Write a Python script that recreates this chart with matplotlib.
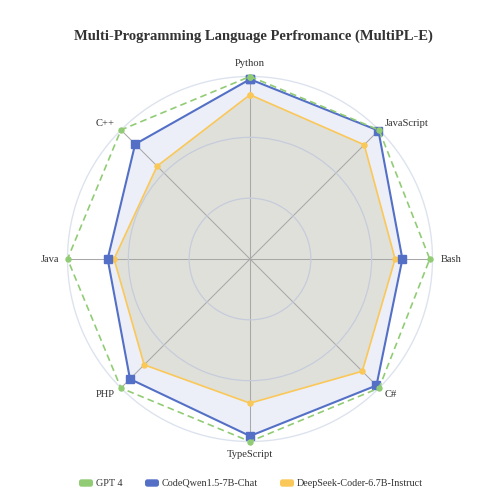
import numpy as np
import matplotlib
matplotlib.use("Agg")
import matplotlib.pyplot as plt
import matplotlib.patches as mpatches

# axes in clockwise order from the top
languages = ["Python", "JavaScript", "Bash", "C#", "TypeScript", "PHP", "Java", "C++"]
# scores as a share of each axis maximum
gpt4 = [100, 100, 98.5, 100, 100, 100, 100, 100]
codeqwen = [98.5, 99.5, 83.5, 98, 97, 93, 78, 89]
deepseek = [90, 88.5, 79.5, 87, 79, 82, 74.5, 72]
series_names = ["GPT 4", "CodeQwen1.5-7B-Chat", "DeepSeek-Coder-6.7B-Instruct"]

GREEN = "#91cc75"
BLUE = "#5470c6"
YELLOW = "#fac858"
TEXT = "#333333"
FONT = "Liberation Serif"

W, H = 492, 498
fig = plt.figure(figsize=(W / 100, H / 100), dpi=100)
fig.patch.set_facecolor("white")

cx, cy, R = 250, 259, 182.5
ax = fig.add_axes([(cx - R) / W, (H - cy - R) / H, 2 * R / W, 2 * R / H],
                  projection="polar")
ax.set_theta_offset(np.pi / 2)
ax.set_theta_direction(-1)
ax.set_ylim(0, 100)
ax.set_facecolor("none")

angles = np.linspace(0, 2 * np.pi, len(languages), endpoint=False)
ax.set_xticks(angles)
ax.set_xticklabels([])
ax.set_yticks([100 / 3, 200 / 3])
ax.set_yticklabels([])
ax.xaxis.grid(True, color="#a8a8a8", lw=0.75, zorder=3)
ax.yaxis.grid(True, color="#c5ccdb", lw=0.9, zorder=3)
ax.spines["polar"].set_color("#dde3ee")
ax.spines["polar"].set_linewidth(1.0)
ax.set_axisbelow(False)


def closed(vals):
    return np.append(angles, angles[0]), np.append(vals, vals[0])


# filled areas first, grid sits on top
t, r = closed(codeqwen)
ax.fill(t, r, color="#eceef8", zorder=1, lw=0)
t, r = closed(deepseek)
ax.fill(t, r, color="#e0e0da", zorder=2, lw=0)

t, r = closed(deepseek)
ax.plot(t, r, color=YELLOW, lw=1.2, marker="o", ms=3.6, zorder=5, clip_on=False)
t, r = closed(codeqwen)
ax.plot(t, r, color=BLUE, lw=1.5, marker="s", ms=5.2, zorder=6, clip_on=False)
t, r = closed(gpt4)
ax.plot(t, r, color=GREEN, lw=1.2, ls=(0, (4, 2.5)), marker="o", ms=3.6,
        zorder=7, clip_on=False)

# axis names around the outer ring
for a, name in zip(angles, languages):
    s, c = np.sin(a), np.cos(a)
    ha = "left" if s > 0.1 else ("right" if s < -0.1 else "center")
    va = "bottom" if c > 0.9 else ("top" if c < -0.9 else "center")
    ax.text(a, 104.7, name, ha=ha, va=va, fontsize=7.6, family=FONT,
            color=TEXT, zorder=8)

fig.text(253.5 / W, 1 - 36 / H, "Multi-Programming Language Perfromance (MultiPL-E)",
         ha="center", va="center", fontsize=10.5, fontweight="bold",
         family=FONT, color=TEXT)

# legend row
leg_y = 483
for x0, name, col in zip([79, 145, 280], series_names, [GREEN, BLUE, YELLOW]):
    patch = mpatches.FancyBboxPatch(
        (x0 / W, (H - leg_y - 3.7) / H), 14 / W, 7.4 / H,
        boxstyle="round,pad=0,rounding_size=0.005",
        transform=fig.transFigure, facecolor=col, edgecolor="none")
    fig.patches.append(patch)
    fig.text((x0 + 17) / W, 1 - leg_y / H, name, ha="left", va="center",
             fontsize=7.3, family=FONT, color=TEXT)

fig.savefig("out.png", dpi=100, facecolor="white")
